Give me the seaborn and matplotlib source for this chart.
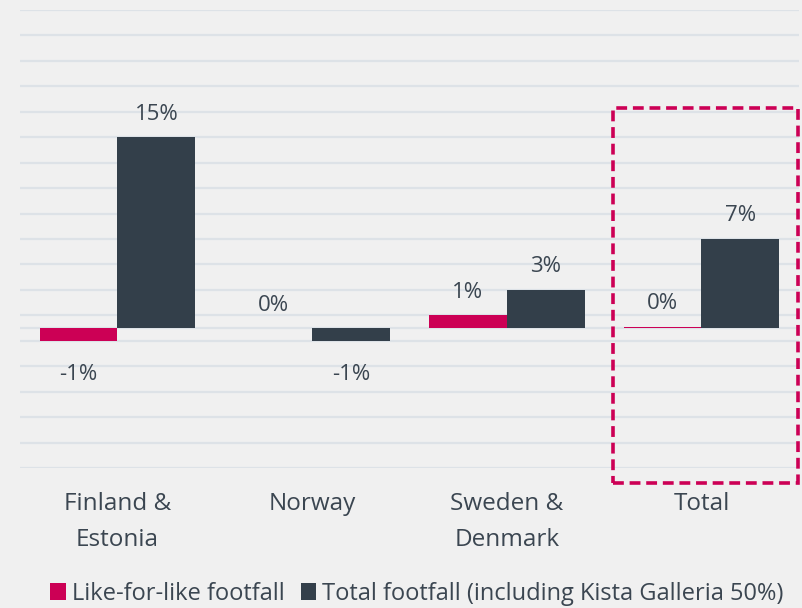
import pandas as pd
import matplotlib.pyplot as plt
import seaborn as sns
from matplotlib.patches import Rectangle

sns.set_style("white")
plt.rcParams['font.family'] = ['Open Sans', 'DejaVu Sans']

# Footfall change per region (%)
regions = ["Finland &\nEstonia", "Norway", "Sweden &\nDenmark", "Total"]
like_for_like = [-1, 0, 1, 0.1]
total_footfall = [15, -1, 3, 7]
series_names = ["Like-for-like footfall", "Total footfall (including Kista Galleria 50%)"]

df = pd.DataFrame({
    "region": regions * 2,
    "change": like_for_like + total_footfall,
    "series": [series_names[0]] * 4 + [series_names[1]] * 4,
})

bg = "#f0f0f0"
txt = "#3b4651"
colors = ["#cc0055", "#333f4a"]

fig = plt.figure(figsize=(8.02, 6.08), dpi=100, facecolor=bg)
ax = fig.add_axes([0.025, 0.2303, 0.971, 0.7533])
ax.set_facecolor(bg)

sns.barplot(data=df, x="region", y="change", hue="series", palette=colors,
            width=0.8, linewidth=0, saturation=1, ax=ax)

ax.set_ylim(-11, 25)
ax.set_xlim(-0.5, 3.5)
ax.set_yticks(range(-11, 26, 2))
ax.yaxis.grid(True, color="#dde2e7", linewidth=1.6)
ax.axhline(0, color="#dde2e7", linewidth=1.6, zorder=0)
ax.set_axisbelow(True)
ax.tick_params(axis="y", left=False, labelleft=False)
ax.tick_params(axis="x", bottom=False, labelsize=17.5, labelcolor=txt, pad=14)
for lab in ax.get_xticklabels():
    lab.set_linespacing(1.65)
ax.set_xlabel("")
ax.set_ylabel("")
sns.despine(ax=ax, left=True, bottom=True, top=True, right=True)

# value labels: positives a bit closer than negatives
for cont in ax.containers:
    vals = cont.datavalues
    pos = [f"{v:.0f}%" if v >= 0 else "" for v in vals]
    neg = [f"{v:.0f}%" if v < 0 else "" for v in vals]
    ax.bar_label(cont, labels=pos, padding=9, fontsize=16, color=txt)
    ax.bar_label(cont, labels=neg, padding=17, fontsize=16, color=txt)

# highlight box around the Total group
box = Rectangle((2.546, -12.2), 0.95, 29.5, fill=False, edgecolor="#cc0055",
                linestyle=(0, (3, 1.6)), linewidth=2.6, clip_on=False, zorder=5)
ax.add_patch(box)

handles, labels = ax.get_legend_handles_labels()
ax.legend(handles, labels, loc="lower center", bbox_to_anchor=(0.52, -0.012),
          bbox_transform=fig.transFigure, ncol=2, frameon=False, fontsize=17,
          labelcolor=txt, handlelength=0.65, handleheight=0.75, handletextpad=0.25,
          columnspacing=0.7, borderaxespad=0.0)

fig.savefig("out.png", dpi=100, facecolor=bg)
